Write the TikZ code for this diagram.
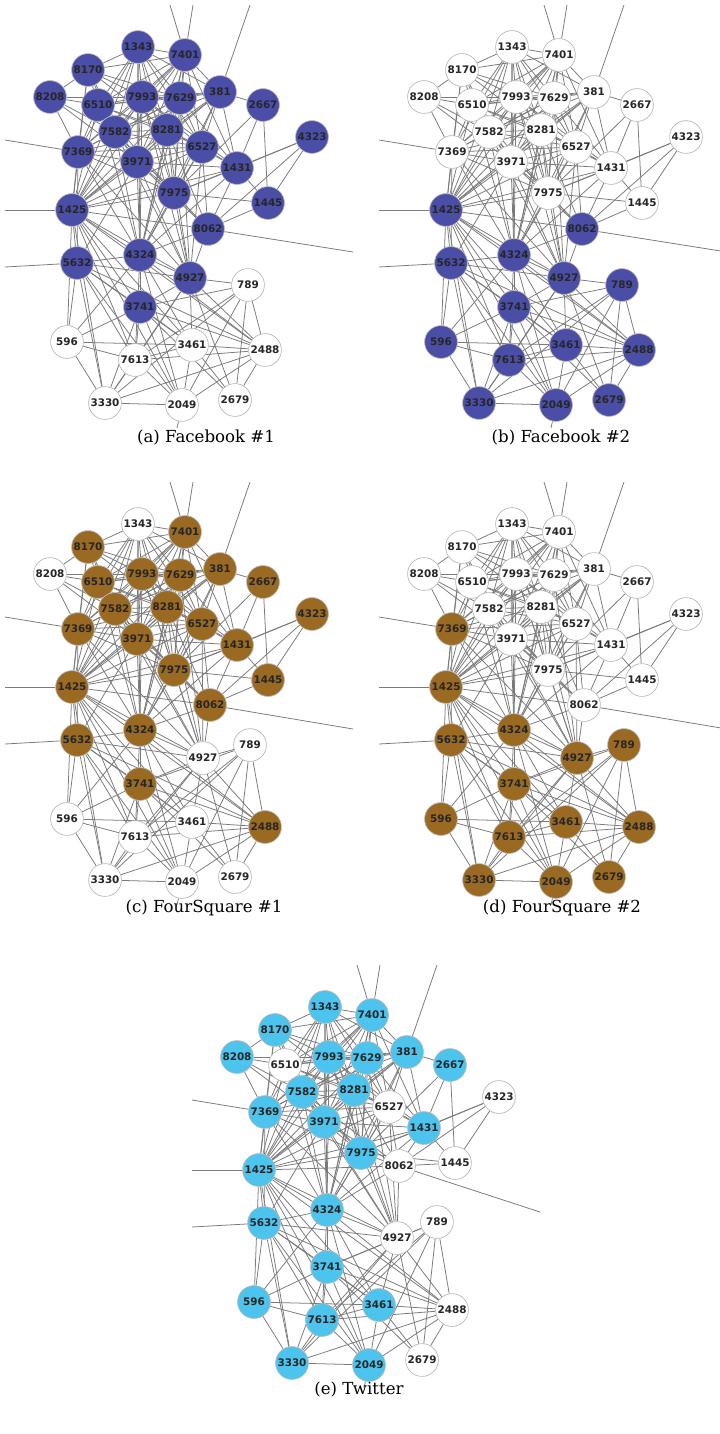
\documentclass[tikz,border=0pt]{standalone}
\usepackage{fontspec}
\usepackage{tikz}
\usetikzlibrary{positioning,backgrounds}
\newfontfamily\netfont{DejaVu Sans}
\newfontfamily\capfont{DejaVu Serif}
\definecolor{fbblue}{HTML}{4B4EA6}
\definecolor{fsbrown}{HTML}{9A6A22}
\definecolor{twblue}{HTML}{4CC4EE}
\definecolor{linkgray}{HTML}{7A7A7A}

\tikzset{
  hub/.style={circle, draw=gray!55, line width=0.5pt, minimum size=0.82cm, inner sep=0pt,
    text=black!85, font=\netfont\fontsize{7.4}{8}\selectfont\bfseries},
  link/.style={draw=linkgray, line width=0.55pt},
  caption/.style={font=\capfont\fontsize{11.8}{14}\selectfont}
}

% layout of the network, in pixels
\newcommand{\netnodes}{1343/138/47, 7401/185/55, 8170/88/70, 8208/50/97, 6510/98/105,
  7993/142/97, 7629/180/98, 381/220/92, 2667/263/105, 7582/115/132, 8281/167/130,
  6527/202/147, 4323/312/137, 7369/78/152, 3971/137/162, 1431/237/168, 7975/174/193,
  1445/268/203, 1425/72/210, 5632/77/263,
  3741/140/307, 596/67/342, 3461/192/345, 2488/265/350, 7613/135/360,
  3330/105/403, 2049/182/405, 2679/235/400}
% the few nodes that sit a little differently per run
\newcommand{\fbmid}{8062/208/229, 4324/140/255, 4927/190/278, 789/248/285}
\newcommand{\fsmid}{8062/210/228, 4324/140/253, 4927/203/281, 789/250/268}
\newcommand{\twmid}{8062/212/206, 4324/140/250, 4927/210/278, 789/250/262}

\newcommand{\netlinks}{%
  1343/{7401,8170,6510,7993,7629,381,7582,8281,3971,7369,1425,4324,7975,6527},
  7401/{8170,6510,7993,7629,381,7582,8281,6527,3971,7369,1425,1431,4324,7975},
  8170/{6510,7993,7629,7582,8281,3971,7369,1425,8208},
  8208/{6510,7582,7369,7993,3971},
  6510/{7993,7629,381,7582,8281,6527,3971,7369,1425,4324,7975},
  7993/{7629,381,7582,8281,6527,3971,7369,1425,4324,7975,4927,1431},
  7629/{381,7582,8281,6527,3971,7369,1425,4324,7975,1431,4927},
  381/{2667,8281,6527,3971,1431,7975,1425,4324,7582},
  7582/{8281,6527,3971,7369,1425,4324,7975,4927,8062},
  8281/{6527,3971,7369,1425,4324,7975,1431,4927,8062},
  6527/{3971,1431,7975,1425,4324,4927,8062,7369},
  7369/{3971,1425,5632,4324,7975,4927},
  3971/{7975,1425,4324,4927,5632,8062,1431},
  1431/{2667,4323,1445,7975,8062,1425,4324},
  7975/{1445,4323,8062,1425,4324,4927,2667},
  2667/{1445},
  4323/{1445,8062},
  1445/{8062},
  1425/{5632,4324,8062,4927,3741,7613,3330,596,3461,2488,2049},
  8062/{4324,4927},
  5632/{4324,3741,596,7613,3330,4927,3461,2488,2049},
  4324/{4927,3741,7613,3461,2488,596,2049},
  4927/{789,3741,7613,3461,2488,2679,3330},
  789/{3741,2488,2679,2049,7613,3330},
  3741/{596,7613,3461,2488,2049,3330,2679},
  596/{7613,3461,3330},
  7613/{3461,3330,2049,2488},
  3461/{2488,2049,2679},
  2488/{2679,2049,3330},
  2049/{3330}}

\newcommand{\netstubs}{7401/170/5, 7401/193/5, 381/250/5, 7369/5/140, 1425/5/210,
  5632/5/267, 8062/353/252, 2049/177/428}

\makeatletter
\newcommand{\netpanel}[4]{% prefix, colour, highlighted nodes, middle nodes
  \edef\allnodes{\netnodes, #4}%
  \foreach \n/\x/\y in \allnodes {%
    \def\fillc{white}%
    \edef\hit{,\n,}%
    \expandafter\in@\expandafter{\hit}{,#3,}%
    \ifin@\def\fillc{#2}\fi
    \node[hub, fill=\fillc] (#1\n) at (\x,\y) {\n};
  }
  \begin{pgfonlayer}{background}
    \foreach \s/\ts in \netlinks
      \foreach \t in \ts
        \draw[link] (#1\s) -- (#1\t);
    \foreach \s/\x/\y [count=\k] in \netstubs {
      \coordinate (#1o\k) at (\x,\y);
      \draw[link] (#1\s) -- (#1o\k);
    }
  \end{pgfonlayer}
}
\makeatother

\begin{document}
\begin{tikzpicture}[x=0.025cm, y=-0.025cm]
  \useasboundingbox (0,0) rectangle (719,1434);

  \begin{scope}
    \netpanel{a}{fbblue}{1343,7401,8170,8208,6510,7993,7629,381,2667,7582,8281,6527,4323,7369,3971,1431,7975,1445,1425,8062,5632,4324,4927,3741}{\fbmid}
  \end{scope}
  \begin{scope}[shift={(374,0)}]
    \netpanel{b}{fbblue}{1425,8062,5632,4324,4927,789,3741,596,7613,3461,2488,3330,2049,2679}{\fbmid}
  \end{scope}
  \begin{scope}[shift={(0,477)}]
    \netpanel{c}{fsbrown}{7401,8170,6510,7993,7629,381,2667,7582,8281,6527,4323,7369,3971,1431,7975,1445,1425,8062,5632,4324,3741,2488}{\fsmid}
  \end{scope}
  \begin{scope}[shift={(374,477)}]
    \netpanel{d}{fsbrown}{7369,1425,5632,4324,4927,789,3741,596,7613,3461,2488,3330,2049,2679}{\fsmid}
  \end{scope}
  \begin{scope}[shift={(187,960)}]
    \netpanel{e}{twblue}{1343,7401,8170,8208,7993,7629,381,2667,7582,8281,7369,3971,1431,7975,1425,5632,4324,3741,596,7613,3461,3330,2049}{\twmid}
  \end{scope}

  \node[caption] (capa) at (206,437) {(a) Facebook \#1};
  \node[caption] (capb) at (561,437) {(b) Facebook \#2};
  \node[caption] (capc) at (204,908) {(c) FourSquare \#1};
  \node[caption] (capd) at (562,908) {(d) FourSquare \#2};
  \node[caption] (cape) at (359,1389) {(e) Twitter};
\end{tikzpicture}
\end{document}
